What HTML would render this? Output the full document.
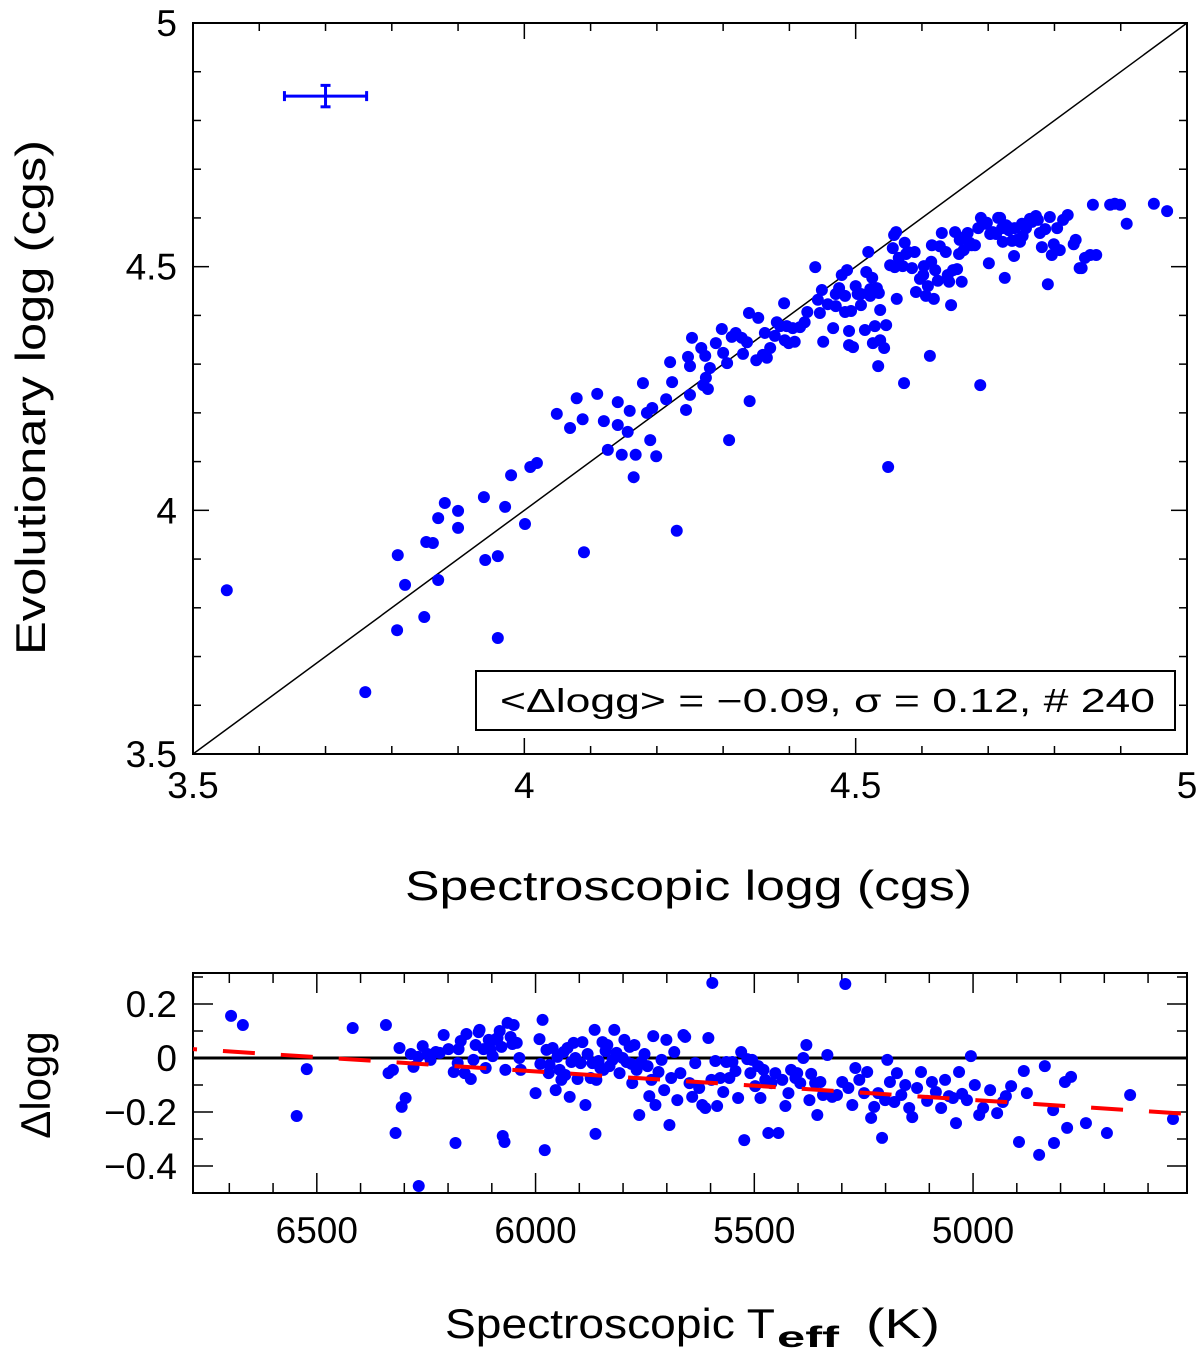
<!DOCTYPE html>
<html><head><meta charset="utf-8"><style>
body{margin:0;background:#fff}
svg text{font-family:"Liberation Sans",sans-serif;fill:#000}
</style></head><body>
<svg id="chart" width="1200" height="1357" xmlns="http://www.w3.org/2000/svg">
<g id="top"></g>
<g id="bot"></g>
</svg>
<script>
const topSpec=[3.551,3.760,3.809,3.820,3.808,3.849,3.852,3.862,3.870,3.870,3.880,3.900,3.900,3.939,3.941,3.960,3.960,3.971,3.980,4.001,4.009,4.019,4.049,4.069,4.079,4.088,4.090,4.110,4.120,4.126,4.141,4.141,4.147,4.156,4.159,4.165,4.168,4.179,4.185,4.190,4.193,4.199,4.214,4.220,4.223,4.230,4.244,4.247,4.250,4.250,4.253,4.267,4.270,4.273,4.274,4.277,4.280,4.289,4.298,4.300,4.306,4.309,4.313,4.319,4.328,4.330,4.336,4.339,4.340,4.350,4.353,4.360,4.363,4.366,4.371,4.378,4.381,4.386,4.392,4.393,4.396,4.399,4.405,4.408,4.416,4.423,4.427,4.439,4.443,4.446,4.449,4.451,4.458,4.466,4.470,4.470,4.475,4.479,4.484,4.484,4.487,4.490,4.490,4.493,4.496,4.500,4.503,4.508,4.508,4.514,4.516,4.519,4.522,4.522,4.525,4.526,4.529,4.532,4.534,4.535,4.537,4.537,4.543,4.546,4.549,4.552,4.556,4.558,4.559,4.561,4.562,4.565,4.571,4.573,4.574,4.576,4.579,4.585,4.589,4.591,4.597,4.602,4.603,4.606,4.609,4.612,4.614,4.615,4.618,4.620,4.624,4.627,4.630,4.636,4.639,4.641,4.644,4.647,4.650,4.653,4.656,4.657,4.660,4.663,4.666,4.669,4.672,4.675,4.680,4.685,4.688,4.689,4.695,4.698,4.701,4.703,4.707,4.712,4.715,4.718,4.721,4.722,4.725,4.727,4.731,4.733,4.736,4.739,4.740,4.743,4.748,4.751,4.752,4.757,4.763,4.766,4.772,4.775,4.778,4.781,4.786,4.790,4.793,4.796,4.799,4.804,4.808,4.813,4.820,4.829,4.832,4.838,4.841,4.846,4.854,4.858,4.863,4.884,4.891,4.899,4.909,4.950,4.970];
const topEvol=[3.836,3.627,3.908,3.847,3.754,3.781,3.935,3.933,3.984,3.857,4.015,3.999,3.964,4.027,3.898,3.906,3.738,4.007,4.072,3.972,4.089,4.097,4.198,4.169,4.230,4.187,3.914,4.239,4.183,4.124,4.222,4.175,4.114,4.161,4.204,4.068,4.114,4.261,4.200,4.144,4.210,4.111,4.228,4.304,4.263,3.958,4.206,4.315,4.237,4.296,4.354,4.333,4.257,4.317,4.272,4.249,4.292,4.343,4.372,4.323,4.302,4.144,4.356,4.364,4.354,4.321,4.345,4.405,4.224,4.308,4.395,4.319,4.364,4.313,4.333,4.358,4.386,4.378,4.425,4.349,4.378,4.343,4.374,4.346,4.376,4.386,4.407,4.499,4.432,4.405,4.452,4.346,4.423,4.374,4.444,4.419,4.456,4.483,4.407,4.440,4.493,4.368,4.339,4.409,4.335,4.460,4.444,4.421,4.444,4.370,4.489,4.530,4.454,4.440,4.477,4.343,4.378,4.456,4.296,4.446,4.411,4.349,4.333,4.380,4.089,4.503,4.538,4.565,4.499,4.571,4.434,4.518,4.501,4.261,4.549,4.526,4.530,4.497,4.530,4.448,4.475,4.483,4.501,4.440,4.460,4.317,4.510,4.544,4.434,4.493,4.471,4.542,4.569,4.530,4.483,4.469,4.421,4.493,4.571,4.495,4.526,4.555,4.469,4.534,4.563,4.569,4.549,4.544,4.544,4.579,4.257,4.600,4.588,4.590,4.507,4.567,4.571,4.567,4.600,4.600,4.579,4.551,4.477,4.585,4.575,4.579,4.553,4.522,4.579,4.555,4.551,4.588,4.563,4.579,4.598,4.592,4.604,4.596,4.569,4.540,4.577,4.464,4.602,4.524,4.546,4.579,4.534,4.596,4.606,4.546,4.555,4.497,4.497,4.518,4.524,4.627,4.524,4.627,4.629,4.627,4.588,4.629,4.614];
const botTeff=[6696,6669,6546,6523,6418,6342,6336,6326,6320,6311,6306,6297,6285,6279,6269,6267,6258,6247,6240,6228,6219,6210,6199,6187,6183,6178,6176,6171,6162,6158,6148,6142,6137,6130,6128,6119,6114,6107,6103,6098,6094,6087,6082,6078,6075,6071,6069,6064,6057,6053,6050,6043,6037,6034,6000,5991,5989,5984,5979,5975,5970,5968,5961,5954,5950,5945,5941,5936,5932,5927,5922,5918,5913,5909,5904,5897,5893,5886,5881,5874,5870,5865,5863,5861,5856,5852,5847,5845,5840,5836,5831,5824,5820,5815,5808,5801,5797,5792,5785,5781,5779,5774,5769,5763,5758,5751,5744,5740,5735,5731,5726,5719,5712,5706,5701,5694,5690,5683,5676,5669,5662,5658,5648,5642,5635,5626,5619,5612,5605,5598,5596,5589,5585,5578,5571,5564,5557,5550,5543,5537,5530,5523,5516,5509,5505,5498,5491,5486,5479,5475,5468,5461,5452,5445,5436,5429,5422,5416,5406,5402,5395,5388,5381,5374,5370,5361,5356,5349,5343,5333,5322,5311,5299,5292,5285,5276,5269,5260,5249,5242,5233,5226,5217,5208,5201,5196,5190,5180,5174,5164,5155,5146,5139,5128,5119,5105,5094,5085,5073,5064,5055,5046,5039,5032,5025,5014,5005,4996,4986,4977,4961,4945,4932,4925,4913,4895,4884,4877,4849,4836,4817,4815,4790,4785,4776,4742,4694,4641,4543];
const botDelta=[0.156,0.122,-0.215,-0.041,0.111,0.122,-0.056,-0.044,-0.278,0.037,-0.181,-0.148,0.015,-0.033,0.004,-0.474,0.044,0.015,-0.007,0.022,0.019,0.085,0.033,-0.052,-0.315,-0.019,0.033,0.063,-0.056,0.089,-0.078,-0.007,0.048,0.096,0.104,0.033,-0.037,0.067,0.030,0.007,0.067,0.074,0.100,0.041,-0.289,-0.311,-0.044,0.130,0.078,0.052,0.122,0.056,0,-0.044,-0.130,0.070,-0.022,0.141,-0.341,0.030,-0.056,-0.026,0.037,-0.119,0.004,-0.044,-0.081,0.022,-0.063,0.037,-0.144,-0.015,0.056,0,-0.078,-0.019,0.059,-0.174,0.015,-0.074,-0.019,0.104,-0.281,-0.081,-0.011,-0.037,0.059,-0.044,0.026,0.048,-0.030,-0.007,0.104,0.019,-0.056,0,0.067,-0.015,0.041,-0.022,-0.093,0.048,-0.044,-0.211,-0.015,0.015,-0.030,-0.141,-0.081,0.081,-0.174,-0.052,-0.007,-0.119,0.067,-0.248,-0.074,0.022,-0.156,-0.056,0.085,0.078,-0.093,-0.144,-0.019,-0.111,-0.174,-0.185,0.074,-0.081,0.278,-0.011,-0.178,-0.074,-0.126,-0.015,-0.074,-0.015,-0.048,-0.148,0.022,-0.304,-0.004,-0.056,-0.007,-0.104,-0.030,-0.148,-0.044,-0.081,-0.278,-0.093,-0.056,-0.278,-0.081,-0.178,-0.130,-0.044,-0.074,-0.056,-0.093,0,0.048,-0.156,-0.059,-0.093,-0.211,-0.089,-0.137,0.011,-0.144,-0.137,-0.089,0.274,-0.111,-0.174,-0.037,-0.081,-0.130,-0.052,-0.222,-0.181,-0.130,-0.296,-0.156,-0.007,-0.089,-0.163,-0.056,-0.137,-0.100,-0.185,-0.219,-0.111,-0.052,-0.159,-0.089,-0.126,-0.185,-0.081,-0.141,-0.148,-0.241,-0.052,-0.133,-0.156,0.007,-0.100,-0.211,-0.185,-0.119,-0.204,-0.163,-0.141,-0.104,-0.311,-0.048,-0.130,-0.359,-0.030,-0.193,-0.315,-0.089,-0.259,-0.070,-0.241,-0.278,-0.137,-0.226];
const topXTicks=["3.5","4","4.5","5"];
const topYTicks=["3.5","4","4.5","5"];
const botXTicks=["6500","6000","5500","5000"];
const botYTicks=["-0.4","-0.2","0","0.2"];
const fitStart=[6783,0.033];
const fitEnd=[4511,-0.207];
const errBar={x:3.70,y:4.85,dx:0.062,dy:0.022};
const legendText="<Δlogg> = −0.09, σ = 0.12, # 240";

const NS="http://www.w3.org/2000/svg";
function mk(p,t,a,txt){const e=document.createElementNS(NS,t);for(const k in a)e.setAttribute(k,a[k]);if(txt!==undefined)e.textContent=txt;p.appendChild(e);return e;}

const TL=193,TR=1187,TT=23,TB=754;
const tx=v=>TL+(v-3.5)/1.5*(TR-TL);
const ty=v=>TB-(v-3.5)/1.5*(TB-TT);
const T=document.getElementById('top');
let f=mk(T,'rect',{x:TL,y:TT,width:TR-TL,height:TB-TT,fill:'none',stroke:'#000','stroke-width':2});


for(let i=0;i<=15;i++){const v=3.5+i*0.1,maj=i%5==0,L=maj?16:8;
 const x=tx(v);mk(T,'line',{x1:x,y1:TB,x2:x,y2:TB-L,stroke:'#000','stroke-width':1.5});mk(T,'line',{x1:x,y1:TT,x2:x,y2:TT+L,stroke:'#000','stroke-width':1.5});
 const y=ty(v);mk(T,'line',{x1:TL,y1:y,x2:TL+L,y2:y,stroke:'#000','stroke-width':1.5});mk(T,'line',{x1:TR,y1:y,x2:TR-L,y2:y,stroke:'#000','stroke-width':1.5});}
topXTicks.forEach(s=>{const t=mk(T,'text',{x:tx(+s),y:TB+44,'font-size':37,'text-anchor':'middle'},s);
 
 });
topYTicks.forEach(s=>{const t=mk(T,'text',{x:TL-16,y:ty(+s)+13,'font-size':37,'text-anchor':'end'},s);
 
 });
let dl=mk(T,'line',{x1:tx(3.5),y1:ty(3.5),x2:tx(5),y2:ty(5),stroke:'#000','stroke-width':1.5});


topSpec.forEach((v,i)=>{const c=mk(T,'circle',{cx:tx(v),cy:ty(topEvol[i]),r:6,fill:'#0000ff'});
 
 });
const eg=mk(T,'g',{stroke:'#0000ff','stroke-width':3});


const ex=tx(errBar.x),ey=ty(errBar.y),ex1=tx(errBar.x-errBar.dx),ex2=tx(errBar.x+errBar.dx),ey1=ty(errBar.y+errBar.dy),ey2=ty(errBar.y-errBar.dy);
mk(eg,'line',{x1:ex1,y1:ey,x2:ex2,y2:ey});mk(eg,'line',{x1:ex,y1:ey1,x2:ex,y2:ey2});
mk(eg,'line',{x1:ex1,y1:ey-5,x2:ex1,y2:ey+5});mk(eg,'line',{x1:ex2,y1:ey-5,x2:ex2,y2:ey+5});
mk(eg,'line',{x1:ex-5,y1:ey1,x2:ex+5,y2:ey1});mk(eg,'line',{x1:ex-5,y1:ey2,x2:ex+5,y2:ey2});
let lb=mk(T,'rect',{x:476,y:671,width:699,height:59,fill:'#fff',stroke:'#000','stroke-width':2});


let lt=mk(T,'text',{x:500,y:712,'font-size':33,textLength:655,lengthAdjust:'spacingAndGlyphs'},legendText);


let xt=mk(T,'text',{x:405,y:900,'font-size':42,textLength:567,lengthAdjust:'spacingAndGlyphs'},'Spectroscopic logg (cgs)');


let yt=mk(T,'text',{x:0,y:0,'font-size':42,textLength:515,lengthAdjust:'spacingAndGlyphs',transform:'translate(45,655) rotate(-90)'},'Evolutionary logg (cgs)');



const BL=193,BR=1187,BT=973,BB=1193;
const bx=v=>BL+(6783-v)/(6783-4511)*(BR-BL);
const by=v=>1058-v*270;
const B=document.getElementById('bot');
let bf=mk(B,'rect',{x:BL,y:BT,width:BR-BL,height:BB-BT,fill:'none',stroke:'#000','stroke-width':2});


for(let v=4600;v<=6700;v+=100){const maj=v%500==0,L=maj?20:10,x=bx(v);
 mk(B,'line',{x1:x,y1:BB,x2:x,y2:BB-L,stroke:'#000','stroke-width':1.5});mk(B,'line',{x1:x,y1:BT,x2:x,y2:BT+L,stroke:'#000','stroke-width':1.5});}
for(let i=-4;i<=3;i++){const v=i*0.1,maj=i%2==0,L=maj?20:10,y=by(v);
 mk(B,'line',{x1:BL,y1:y,x2:BL+L,y2:y,stroke:'#000','stroke-width':1.5});mk(B,'line',{x1:BR,y1:y,x2:BR-L,y2:y,stroke:'#000','stroke-width':1.5});}
botXTicks.forEach(s=>{const t=mk(B,'text',{x:bx(+s),y:BB+50,'font-size':37,'text-anchor':'middle'},s);
 
 });
botYTicks.forEach(s=>{const t=mk(B,'text',{x:BL-16,y:by(+s)+13,'font-size':37,'text-anchor':'end'},s.replace('-','−'));
 
 });
let zl=mk(B,'line',{x1:BL,y1:by(0),x2:BR,y2:by(0),stroke:'#000','stroke-width':3});


botTeff.forEach((v,i)=>{const c=mk(B,'circle',{cx:bx(v),cy:by(botDelta[i]),r:6,fill:'#0000ff'});
 
 });
let fl=mk(B,'line',{x1:bx(fitStart[0]),y1:by(fitStart[1]),x2:bx(fitEnd[0]),y2:by(fitEnd[1]),stroke:'#ff0000','stroke-width':4,'stroke-dasharray':'32 26','stroke-dashoffset':'28'});


const bxg=mk(B,'g',{});


mk(bxg,'text',{x:445,y:1338,'font-size':42,textLength:330,lengthAdjust:'spacingAndGlyphs'},'Spectroscopic T');
mk(bxg,'text',{x:777,y:1347,'font-size':30,'font-weight':'bold',textLength:62,lengthAdjust:'spacingAndGlyphs'},'eff');
mk(bxg,'text',{x:866,y:1338,'font-size':42,textLength:74,lengthAdjust:'spacingAndGlyphs'},'(K)');
let byt=mk(B,'text',{x:0,y:0,'font-size':42,'text-anchor':'middle',transform:'translate(50,1085) rotate(-90)'},'Δlogg');


</script>
</body></html>
